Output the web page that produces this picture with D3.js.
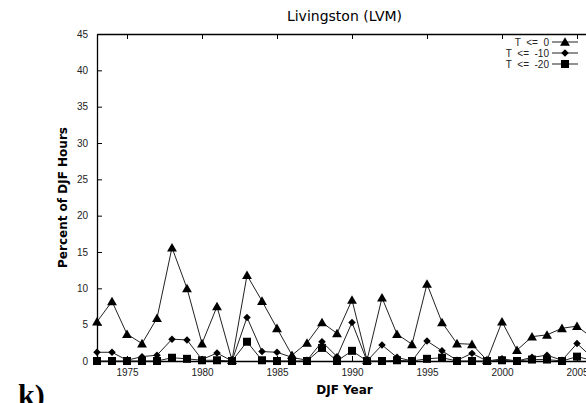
<!DOCTYPE html>
<html>
<head>
<meta charset="utf-8">
<script src="https://cdn.jsdelivr.net/npm/d3@7/dist/d3.min.js"></script>
<style>
  html, body { margin: 0; padding: 0; background: #fff; }
  svg { display: block; }
  .tick-label { font-family: "Liberation Sans", Arial, sans-serif; font-size: 10px; fill: #222; }
</style>
</head>
<body>
<svg id="chart" width="586" height="403"></svg>
<script>
// DJF winters, 1973-2006
const years = d3.range(1973, 2007);

// Percent of DJF hours at or below each temperature threshold
const belowZero = [5.4, 8.2, 3.7, 2.4, 5.9, 15.6, 10.0, 2.4, 7.5, 0.1,
                   11.8, 8.25, 4.5, 0.8, 2.5, 5.3, 3.8, 8.4, 0.1, 8.7,
                   3.7, 2.3, 10.6, 5.3, 2.4, 2.3, 0.1, 5.4, 1.5, 3.35,
                   3.6, 4.5, 4.8, 3.2];
const belowMinus10 = [1.2, 1.2, 0.1, 0.6, 0.8, 3.0, 2.9, 0.2, 1.1, 0.0,
                      6.0, 1.3, 1.2, 0.5, 0.1, 2.65, 0.6, 5.3, 0.0, 2.2,
                      0.5, 0.0, 2.75, 1.4, 0.1, 1.05, 0.0, 0.3, 0.0, 0.5,
                      0.8, 0.1, 2.4, 0.5];
const belowMinus20 = [0.0, 0.0, 0.0, 0.0, 0.0, 0.45, 0.3, 0.1, 0.1, 0.0,
                      2.65, 0.1, 0.0, 0.0, 0.0, 1.8, 0.0, 1.4, 0.0, 0.0,
                      0.1, 0.0, 0.3, 0.45, 0.0, 0.0, 0.0, 0.1, 0.0, 0.2,
                      0.2, 0.0, 0.6, 0.1];

const seriesNames = ["T <= 0", "T <= -10", "T <= -20"];
const yTicks = d3.range(0, 46, 5);
const xTicks = [1975, 1980, 1985, 1990, 1995, 2000, 2005];

const svg = d3.select("#chart");
const plotLeft = 97, plotRight = 592, plotTop = 34, plotBottom = 361;

const x = d3.scaleLinear().domain([1973, 2006]).range([plotLeft, plotRight]);
const y = d3.scaleLinear().domain([0, 45]).range([plotBottom, plotTop]);

// Title
svg.append("text")
  .attr("x", (plotLeft + plotRight) / 2).attr("y", 21)
  .attr("text-anchor", "middle")
  .style("font-family", "DejaVu Sans, sans-serif")
  .style("font-size", "14px")
  .text("Livingston (LVM)");

// Axis titles
svg.append("text")
  .attr("transform", `translate(67,${(plotTop + plotBottom) / 2}) rotate(-90)`)
  .attr("text-anchor", "middle")
  .style("font-family", "DejaVu Sans, sans-serif")
  .style("font-size", "12px").style("font-weight", "bold")
  .text("Percent of DJF Hours");

svg.append("text")
  .attr("x", (plotLeft + plotRight) / 2).attr("y", 394)
  .attr("text-anchor", "middle")
  .style("font-family", "DejaVu Sans, sans-serif")
  .style("font-size", "12px").style("font-weight", "bold")
  .text("DJF Year");

// Panel letter
svg.append("text")
  .attr("x", 18).attr("y", 405)
  .style("font-family", "Liberation Serif, serif")
  .style("font-size", "30px").style("font-weight", "bold")
  .text("k)");

// Axes with inward ticks (mirrored on top and right)
const gBottom = svg.append("g").attr("transform", `translate(0,${plotBottom})`)
  .call(d3.axisBottom(x).tickValues(xTicks).tickFormat(d3.format("d")).tickSizeInner(-5).tickSizeOuter(0).tickPadding(8));
const gTop = svg.append("g").attr("transform", `translate(0,${plotTop})`)
  .call(d3.axisTop(x).tickValues(xTicks).tickFormat("").tickSizeInner(-5).tickSizeOuter(0));
const gLeft = svg.append("g").attr("transform", `translate(${plotLeft},0)`)
  .call(d3.axisLeft(y).tickValues(yTicks).tickSizeInner(-5).tickSizeOuter(0).tickPadding(9));
const gRight = svg.append("g").attr("transform", `translate(${plotRight},0)`)
  .call(d3.axisRight(y).tickValues(yTicks).tickFormat("").tickSizeInner(-5).tickSizeOuter(0));

[gBottom, gTop, gLeft, gRight].forEach(g => {
  g.select(".domain").attr("stroke", "#000").attr("stroke-width", 1.3);
  g.selectAll(".tick line").attr("stroke", "#000");
  g.selectAll(".tick text").attr("class", "tick-label").attr("font-family", null).attr("font-size", null);
});

// Marker shapes
const triangle = d3.symbol().type(d3.symbolTriangle).size(42)();
const diamond = d3.symbol().type(d3.symbolSquare).size(28)();
const square = d3.symbol().type(d3.symbolSquare).size(64)();
const shapes = [
  { path: triangle, rot: 0, dy: 1 },
  { path: diamond, rot: 45, dy: 0 },
  { path: square, rot: 0, dy: 0 }
];
const allSeries = [belowZero, belowMinus10, belowMinus20];

const line = d3.line().x(d => x(d[0])).y(d => y(d[1]));
const plot = svg.append("g");

// Draw from the lowest series up so the upper markers stay on top
[2, 1, 0].forEach(i => {
  const pts = years.map((yr, k) => [yr, allSeries[i][k]]);
  plot.append("path")
    .attr("d", line(pts))
    .attr("fill", "none").attr("stroke", "#222").attr("stroke-width", 1);
  plot.selectAll(null).data(pts).enter().append("path")
    .attr("d", shapes[i].path)
    .attr("transform", d => `translate(${x(d[0])},${y(d[1]) + shapes[i].dy}) rotate(${shapes[i].rot})`)
    .attr("fill", "#000");
});

// Legend
const legend = svg.append("g");
seriesNames.forEach((name, i) => {
  const ly = 42 + i * 11;
  legend.append("text")
    .attr("class", "tick-label")
    .attr("x", 549).attr("y", ly + 3.5)
    .attr("text-anchor", "end")
    .attr("xml:space", "preserve")
    .style("white-space", "pre")
    .text(name.replace(/ /g, "  "));
  legend.append("line")
    .attr("x1", 552).attr("x2", 578).attr("y1", ly).attr("y2", ly)
    .attr("stroke", "#222").attr("stroke-width", 1);
  legend.append("path")
    .attr("d", shapes[i].path)
    .attr("transform", `translate(565,${ly + shapes[i].dy}) rotate(${shapes[i].rot})`)
    .attr("fill", "#000");
});
</script>
</body>
</html>
